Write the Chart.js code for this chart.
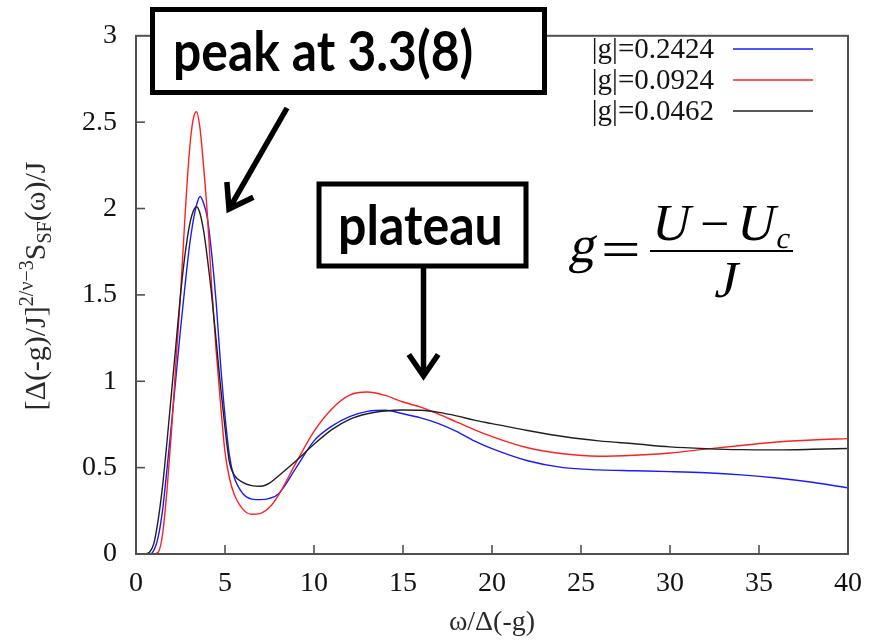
<!DOCTYPE html>
<html>
<head>
<meta charset="utf-8">
<script src="https://cdn.jsdelivr.net/npm/chart.js@4.4.0/dist/chart.umd.min.js"></script>
<style>
  html, body { margin: 0; padding: 0; background: #ffffff; }
  canvas { display: block; }
</style>
</head>
<body>
<canvas id="c" width="879" height="640"></canvas>
<script>
// omega / Delta(-g) sample points shared by all three curves
const omega = [0, 0.5, 0.75, 1, 1.25, 1.5, 1.75, 2, 2.25, 2.5, 2.75, 3, 3.2, 3.4, 3.6, 3.8, 4, 4.25, 4.5, 4.75,
               5, 5.25, 5.5, 6, 6.5, 7, 7.5, 8, 9, 10, 11, 12, 13, 14, 15, 16, 17, 18, 19, 20,
               22, 24, 26, 28, 30, 32, 34, 36, 38, 40];

// scaled spectral function for |g| = 0.2424
const sfG2424 = [0, 0, 0, 0.02, 0.1, 0.26, 0.5, 0.76, 1.03, 1.3, 1.55, 1.78, 1.92, 2.02, 2.07, 2.03, 1.95, 1.74, 1.46, 1.1,
                 0.8, 0.57, 0.45, 0.35, 0.318, 0.315, 0.322, 0.348, 0.5, 0.655, 0.74, 0.795, 0.826, 0.832, 0.812, 0.788, 0.755, 0.71, 0.655, 0.61,
                 0.54, 0.5, 0.487, 0.482, 0.477, 0.47, 0.458, 0.44, 0.415, 0.383];

// scaled spectral function for |g| = 0.0924
const sfG0924 = [0, 0, 0, 0, 0.01, 0.12, 0.38, 0.72, 1.12, 1.5, 1.95, 2.33, 2.51, 2.56, 2.46, 2.24, 1.98, 1.55, 1.18, 0.87,
                 0.59, 0.44, 0.35, 0.26, 0.23, 0.235, 0.27, 0.34, 0.53, 0.71, 0.84, 0.92, 0.938, 0.918, 0.88, 0.85, 0.81, 0.765, 0.72, 0.68,
                 0.615, 0.58, 0.566, 0.572, 0.585, 0.607, 0.628, 0.648, 0.66, 0.668];

// scaled spectral function for |g| = 0.0462
const sfG0462 = [0, 0, 0.01, 0.06, 0.2, 0.4, 0.66, 0.94, 1.22, 1.5, 1.73, 1.9, 1.98, 2.01, 1.97, 1.87, 1.72, 1.5, 1.24, 0.97,
                 0.73, 0.53, 0.46, 0.415, 0.396, 0.392, 0.41, 0.452, 0.54, 0.635, 0.72, 0.78, 0.812, 0.828, 0.834, 0.832, 0.82, 0.8, 0.775, 0.755,
                 0.715, 0.68, 0.655, 0.638, 0.62, 0.61, 0.604, 0.603, 0.606, 0.611];

const seriesLabels = ['|g|=0.2424', '|g|=0.0924', '|g|=0.0462'];
const seriesColors = ['#1a1aff', '#ff2020', '#202020'];

const xTickLabels = ['0', '5', '10', '15', '20', '25', '30', '35', '40'];
const yTickLabels = ['0', '0.5', '1', '1.5', '2', '2.5', '3'];

const SERIF = "'Liberation Serif', 'Times New Roman', serif";
const SANS_BOLD = "Lato, 'Open Sans', 'DejaVu Sans', sans-serif";

function toPoints(ys) {
  return omega.map((x, i) => ({ x: x, y: ys[i] }));
}

// plot frame plus inward tick marks (left and bottom axes only)
const framePlugin = {
  id: 'frame',
  afterDatasetsDraw(chart) {
    const { ctx, chartArea: a, scales } = chart;
    ctx.save();
    ctx.strokeStyle = '#505050';
    ctx.lineWidth = 2;
    ctx.strokeRect(a.left, a.top, a.right - a.left, a.bottom - a.top);
    ctx.lineWidth = 1.6;
    scales.x.ticks.forEach(t => {
      const px = scales.x.getPixelForValue(t.value);
      if (px <= a.left + 1 || px >= a.right - 1) return;
      ctx.beginPath();
      ctx.moveTo(px, a.bottom);
      ctx.lineTo(px, a.bottom - 9);
      ctx.stroke();
    });
    scales.y.ticks.forEach(t => {
      const py = scales.y.getPixelForValue(t.value);
      if (py <= a.top + 1 || py >= a.bottom - 1) return;
      ctx.beginPath();
      ctx.moveTo(a.left, py);
      ctx.lineTo(a.left + 9, py);
      ctx.stroke();
    });
    ctx.restore();
  }
};

// rotated y-axis title with superscript and subscript parts
const yTitlePlugin = {
  id: 'yTitle',
  afterDraw(chart) {
    const ctx = chart.ctx;
    const big = 30, small = 20;
    const parts = [
      { t: '[\u0394(-g)/J]', s: big, dy: 0 },
      { t: '2/\u03BD\u22123', s: small, dy: -12 },
      { t: 'S', s: big, dy: 0 },
      { t: 'SF', s: small, dy: 6 },
      { t: '(\u03C9)/J', s: big, dy: 0 }
    ];
    ctx.save();
    let total = 0;
    parts.forEach(p => { ctx.font = p.s + 'px ' + SERIF; p.w = ctx.measureText(p.t).width; total += p.w; });
    const a = chart.chartArea;
    ctx.translate(45, 286);
    ctx.rotate(-Math.PI / 2);
    ctx.fillStyle = '#2a2a2a';
    ctx.textBaseline = 'alphabetic';
    let x = -total / 2;
    parts.forEach(p => {
      ctx.font = p.s + 'px ' + SERIF;
      ctx.fillText(p.t, x, p.dy);
      x += p.w;
    });
    ctx.restore();
  }
};

// key: right-justified labels followed by a short line sample
const keyPlugin = {
  id: 'key',
  afterDraw(chart) {
    const ctx = chart.ctx;
    ctx.save();
    ctx.font = '29px ' + SERIF;
    ctx.textAlign = 'right';
    ctx.textBaseline = 'middle';
    chart.data.datasets.forEach((ds, i) => {
      const y = 49 + i * 31;
      ctx.fillStyle = '#141414';
      ctx.fillText(ds.label, 714, y + 1);
      ctx.strokeStyle = ds.borderColor;
      ctx.lineWidth = 1.5;
      ctx.beginPath();
      ctx.moveTo(733, y);
      ctx.lineTo(813, y);
      ctx.stroke();
    });
    ctx.restore();
  }
};

function fitBoldFont(ctx, text, width) {
  let size = 40;
  ctx.font = 'bold ' + size + 'px ' + SANS_BOLD;
  const w = ctx.measureText(text).width;
  size = size * width / w;
  return 'bold ' + size.toFixed(1) + 'px ' + SANS_BOLD;
}

// bold callout text, slightly taller than the face's natural proportions
function calloutText(ctx, text, x, baseline, width) {
  ctx.save();
  ctx.font = fitBoldFont(ctx, text, width);
  ctx.translate(x, baseline);
  ctx.scale(1, 1.12);
  ctx.fillText(text, 0, 0);
  ctx.restore();
}

function arrow(ctx, x0, y0, x1, y1, head) {
  const ang = Math.atan2(y1 - y0, x1 - x0);
  ctx.beginPath();
  ctx.moveTo(x0, y0);
  ctx.lineTo(x1 - Math.cos(ang) * 2, y1 - Math.sin(ang) * 2);
  ctx.stroke();
  ctx.beginPath();
  ctx.moveTo(x1 - head * Math.cos(ang - 0.6), y1 - head * Math.sin(ang - 0.6));
  ctx.lineTo(x1, y1);
  ctx.lineTo(x1 - head * Math.cos(ang + 0.6), y1 - head * Math.sin(ang + 0.6));
  ctx.stroke();
}

// math-style serif text; italics made by slanting the upright face
function mathText(ctx, text, x, y, size, italic, sx) {
  ctx.save();
  ctx.font = size + 'px ' + SERIF;
  ctx.translate(x, y);
  if (italic) ctx.transform(1, 0, -0.21, 1, 0, 0);
  if (sx) ctx.scale(sx, 1);
  ctx.fillText(text, 0, 0);
  ctx.restore();
}

// callout boxes, arrows and the definition of g
const notesPlugin = {
  id: 'notes',
  afterDraw(chart) {
    const ctx = chart.ctx;
    ctx.save();
    ctx.lineJoin = 'miter';
    ctx.strokeStyle = '#000';
    ctx.lineWidth = 5;
    ctx.textAlign = 'left';
    ctx.textBaseline = 'alphabetic';

    // "peak" callout
    ctx.fillStyle = '#fff';
    ctx.fillRect(152.5, 9.5, 392, 83);
    ctx.strokeRect(152.5, 9.5, 392, 83);
    ctx.fillStyle = '#000';
    calloutText(ctx, 'peak at 3.3(8)', 173, 71, 300);

    // "plateau" callout
    ctx.fillStyle = '#fff';
    ctx.fillRect(319, 184, 207, 82);
    ctx.strokeRect(319, 184, 207, 82);
    ctx.fillStyle = '#000';
    calloutText(ctx, 'plateau', 338, 245, 165);

    ctx.lineWidth = 5.5;
    arrow(ctx, 287, 108, 229, 209, 27);
    arrow(ctx, 423.5, 268, 423.5, 376, 26);

    // g = (U - U_c) / J
    ctx.fillStyle = '#000';
    mathText(ctx, 'g', 568, 262, 52, true);
    mathText(ctx, '=', 601, 267, 52, false, 1.35);
    mathText(ctx, 'U', 650, 240, 52, true);
    mathText(ctx, '\u2212', 700, 241, 52, false);
    mathText(ctx, 'U', 735, 240, 52, true);
    mathText(ctx, 'c', 775, 248, 30, true);
    mathText(ctx, 'J', 714, 297, 52, true);
    ctx.lineWidth = 2;
    ctx.beginPath();
    ctx.moveTo(650, 251);
    ctx.lineTo(793, 251);
    ctx.stroke();
    ctx.restore();
  }
};

const datasets = [sfG2424, sfG0924, sfG0462].map((ys, i) => ({
  label: seriesLabels[i],
  data: toPoints(ys),
  borderColor: seriesColors[i],
  borderWidth: 1.4,
  pointRadius: 0,
  fill: false,
  cubicInterpolationMode: 'monotone',
  order: 3 - i
}));

new Chart(document.getElementById('c'), {
  type: 'line',
  data: { datasets: datasets },
  options: {
    responsive: false,
    devicePixelRatio: 1,
    animation: false,
    layout: { padding: { top: 24, right: 31, left: 0, bottom: 0 } },
    plugins: { legend: { display: false }, tooltip: { enabled: false } },
    scales: {
      x: {
        type: 'linear',
        min: 0, max: 40,
        afterFit(scale) { scale.height = 86; },
        afterBuildTicks(scale) { scale.ticks = xTickLabels.map((s, i) => ({ value: i * 5 })); },
        grid: { display: false, drawTicks: false },
        border: { display: false },
        ticks: {
          padding: 13,
          color: '#111',
          font: { family: SERIF, size: 28 },
          callback: (v, i) => xTickLabels[i]
        },
        title: {
          display: true,
          text: '\u03C9/\u0394(-g)',
          color: '#2a2a2a',
          font: { family: SERIF, size: 28 },
          padding: { top: 0, bottom: 1 }
        }
      },
      y: {
        type: 'linear',
        min: 0, max: 3,
        afterFit(scale) { scale.width = 136; },
        afterBuildTicks(scale) { scale.ticks = yTickLabels.map((s, i) => ({ value: i * 0.5 })); },
        grid: { display: false, drawTicks: false },
        border: { display: false },
        ticks: {
          padding: 19,
          color: '#111',
          font: { family: SERIF, size: 28 },
          callback: (v, i) => yTickLabels[i]
        }
      }
    }
  },
  plugins: [framePlugin, yTitlePlugin, keyPlugin, notesPlugin]
});
</script>
</body>
</html>
